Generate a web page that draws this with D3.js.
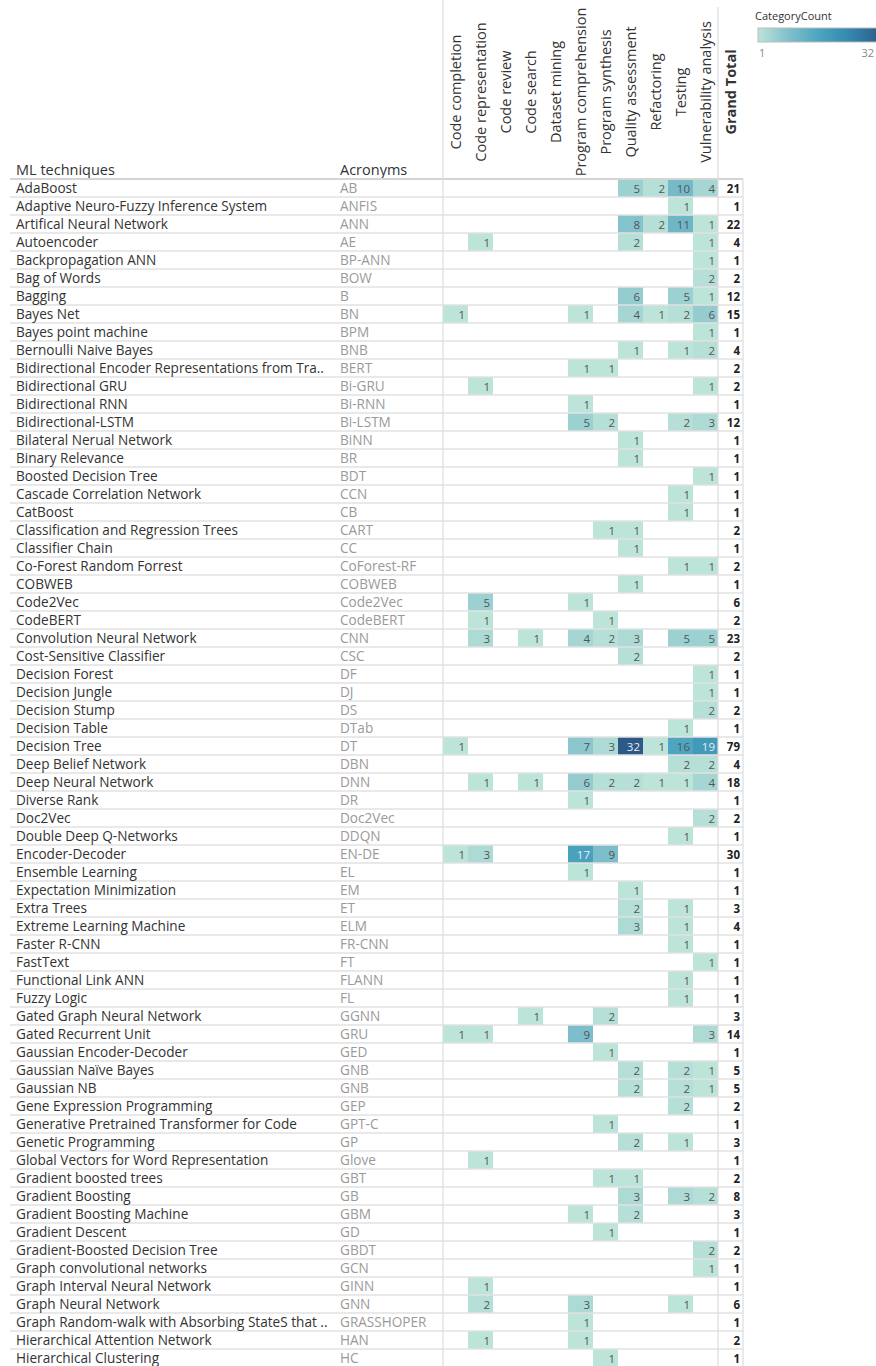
<!DOCTYPE html>
<html>
<head>
<meta charset="utf-8">
<script src="https://cdn.jsdelivr.net/npm/d3@7"></script>
<style>
  body { margin: 0; background: #fff; }
  text { font-family: "Open Sans", "Noto Sans", sans-serif; }
</style>
</head>
<body>
<svg width="876" height="1366"></svg>
<script>

// ML technique names (row labels)
const techniques = [
  "AdaBoost", "Adaptive Neuro-Fuzzy Inference System", "Artifical Neural Network", "Autoencoder",
  "Backpropagation ANN", "Bag of Words", "Bagging", "Bayes Net", "Bayes point machine",
  "Bernoulli Naive Bayes", "Bidirectional Encoder Representations from Tra..", "Bidirectional GRU",
  "Bidirectional RNN", "Bidirectional-LSTM", "Bilateral Nerual Network", "Binary Relevance",
  "Boosted Decision Tree", "Cascade Correlation Network", "CatBoost", "Classification and Regression Trees",
  "Classifier Chain", "Co-Forest Random Forrest", "COBWEB", "Code2Vec", "CodeBERT",
  "Convolution Neural Network", "Cost-Sensitive Classifier", "Decision Forest", "Decision Jungle",
  "Decision Stump", "Decision Table", "Decision Tree", "Deep Belief Network", "Deep Neural Network",
  "Diverse Rank", "Doc2Vec", "Double Deep Q-Networks", "Encoder-Decoder", "Ensemble Learning",
  "Expectation Minimization", "Extra Trees", "Extreme Learning Machine", "Faster R-CNN", "FastText",
  "Functional Link ANN", "Fuzzy Logic", "Gated Graph Neural Network", "Gated Recurrent Unit",
  "Gaussian Encoder-Decoder", "Gaussian Naïve Bayes", "Gaussian NB", "Gene Expression Programming",
  "Generative Pretrained Transformer for Code", "Genetic Programming", "Global Vectors for Word Representation",
  "Gradient boosted trees", "Gradient Boosting", "Gradient Boosting Machine", "Gradient Descent",
  "Gradient-Boosted Decision Tree", "Graph convolutional networks", "Graph Interval Neural Network",
  "Graph Neural Network", "Graph Random-walk with Absorbing StateS that ..", "Hierarchical Attention Network",
  "Hierarchical Clustering"
];

const acronyms = [
  "AB", "ANFIS", "ANN", "AE", "BP-ANN", "BOW", "B", "BN", "BPM", "BNB", "BERT", "Bi-GRU", "Bi-RNN",
  "Bi-LSTM", "BiNN", "BR", "BDT", "CCN", "CB", "CART", "CC", "CoForest-RF", "COBWEB", "Code2Vec",
  "CodeBERT", "CNN", "CSC", "DF", "DJ", "DS", "DTab", "DT", "DBN", "DNN", "DR", "Doc2Vec", "DDQN",
  "EN-DE", "EL", "EM", "ET", "ELM", "FR-CNN", "FT", "FLANN", "FL", "GGNN", "GRU", "GED", "GNB", "GNB",
  "GEP", "GPT-C", "GP", "Glove", "GBT", "GB", "GBM", "GD", "GBDT", "GCN", "GINN", "GNN", "GRASSHOPER",
  "HAN", "HC"
];

const categories = [
  "Code completion", "Code representation", "Code review", "Code search", "Dataset mining",
  "Program comprehension", "Program synthesis", "Quality assessment", "Refactoring", "Testing",
  "Vulnerability analysis"
];

// counts per technique, one entry per category (null = empty cell)
const counts = [
  [null,null,null,null,null,null,null,5,2,10,4],
  [null,null,null,null,null,null,null,null,null,1,null],
  [null,null,null,null,null,null,null,8,2,11,1],
  [null,1,null,null,null,null,null,2,null,null,1],
  [null,null,null,null,null,null,null,null,null,null,1],
  [null,null,null,null,null,null,null,null,null,null,2],
  [null,null,null,null,null,null,null,6,null,5,1],
  [1,null,null,null,null,1,null,4,1,2,6],
  [null,null,null,null,null,null,null,null,null,null,1],
  [null,null,null,null,null,null,null,1,null,1,2],
  [null,null,null,null,null,1,1,null,null,null,null],
  [null,1,null,null,null,null,null,null,null,null,1],
  [null,null,null,null,null,1,null,null,null,null,null],
  [null,null,null,null,null,5,2,null,null,2,3],
  [null,null,null,null,null,null,null,1,null,null,null],
  [null,null,null,null,null,null,null,1,null,null,null],
  [null,null,null,null,null,null,null,null,null,null,1],
  [null,null,null,null,null,null,null,null,null,1,null],
  [null,null,null,null,null,null,null,null,null,1,null],
  [null,null,null,null,null,null,1,1,null,null,null],
  [null,null,null,null,null,null,null,1,null,null,null],
  [null,null,null,null,null,null,null,null,null,1,1],
  [null,null,null,null,null,null,null,1,null,null,null],
  [null,5,null,null,null,1,null,null,null,null,null],
  [null,1,null,null,null,null,1,null,null,null,null],
  [null,3,null,1,null,4,2,3,null,5,5],
  [null,null,null,null,null,null,null,2,null,null,null],
  [null,null,null,null,null,null,null,null,null,null,1],
  [null,null,null,null,null,null,null,null,null,null,1],
  [null,null,null,null,null,null,null,null,null,null,2],
  [null,null,null,null,null,null,null,null,null,1,null],
  [1,null,null,null,null,7,3,32,1,16,19],
  [null,null,null,null,null,null,null,null,null,2,2],
  [null,1,null,1,null,6,2,2,1,1,4],
  [null,null,null,null,null,1,null,null,null,null,null],
  [null,null,null,null,null,null,null,null,null,null,2],
  [null,null,null,null,null,null,null,null,null,1,null],
  [1,3,null,null,null,17,9,null,null,null,null],
  [null,null,null,null,null,1,null,null,null,null,null],
  [null,null,null,null,null,null,null,1,null,null,null],
  [null,null,null,null,null,null,null,2,null,1,null],
  [null,null,null,null,null,null,null,3,null,1,null],
  [null,null,null,null,null,null,null,null,null,1,null],
  [null,null,null,null,null,null,null,null,null,null,1],
  [null,null,null,null,null,null,null,null,null,1,null],
  [null,null,null,null,null,null,null,null,null,1,null],
  [null,null,null,1,null,null,2,null,null,null,null],
  [1,1,null,null,null,9,null,null,null,null,3],
  [null,null,null,null,null,null,1,null,null,null,null],
  [null,null,null,null,null,null,null,2,null,2,1],
  [null,null,null,null,null,null,null,2,null,2,1],
  [null,null,null,null,null,null,null,null,null,2,null],
  [null,null,null,null,null,null,1,null,null,null,null],
  [null,null,null,null,null,null,null,2,null,1,null],
  [null,1,null,null,null,null,null,null,null,null,null],
  [null,null,null,null,null,null,1,1,null,null,null],
  [null,null,null,null,null,null,null,3,null,3,2],
  [null,null,null,null,null,1,null,2,null,null,null],
  [null,null,null,null,null,null,1,null,null,null,null],
  [null,null,null,null,null,null,null,null,null,null,2],
  [null,null,null,null,null,null,null,null,null,null,1],
  [null,1,null,null,null,null,null,null,null,null,null],
  [null,2,null,null,null,3,null,null,null,1,null],
  [null,null,null,null,null,1,null,null,null,null,null],
  [null,1,null,null,null,1,null,null,null,null,null],
  [null,null,null,null,null,null,1,null,null,null,null]
];

const legend_min = 1;
const legend_max = 32;

const svg    = d3.select("svg");
const row_h  = 18;
const top_y  = 179;
const grid_x = 443;
const col_w  = 25;
const line_x0 = 10;
const right_x = grid_x + col_w * (categories.length + 1);

const x = d3.scaleBand()
  .domain(d3.range(categories.length))
  .range([grid_x, grid_x + col_w * categories.length]);

const y = d3.scaleBand()
  .domain(d3.range(techniques.length))
  .range([top_y, top_y + row_h * techniques.length]);

// tableau-ish blue-teal ramp
const color = d3.scaleLinear()
  .domain([0, 0.25, 0.5, 0.75, 1].map(t => legend_min + t * (legend_max - legend_min)))
  .range(["#bde4d9", "#7ebfcb", "#4aa3be", "#3385ad", "#2c5985"]);

const totals = counts.map(r => d3.sum(r));

// cells flattened
const cells = [];
counts.forEach((r, i) => r.forEach((v, j) => { if (v != null) cells.push({row: i, col: j, value: v}); }));

// header texts
svg.append("text").attr("x", 16).attr("y", 175)
  .style("font-size", "14.5px").style("fill", "#333").text("ML techniques");
svg.append("text").attr("x", 340).attr("y", 175)
  .style("font-size", "14.5px").style("fill", "#333").text("Acronyms");

svg.selectAll("text.colhead")
  .data(categories.concat(["Grand Total"]))
  .enter()
  .append("text")
  .attr("class", "colhead")
  .attr("transform", (d, i) => `translate(${grid_x + col_w * i + col_w / 2 + 5.5},92) rotate(-90)`)
  .attr("text-anchor", "middle")
  .style("font-size", "14.5px")
  .style("font-weight", (d, i) => i == categories.length ? "bold" : "normal")
  .style("fill", "#333")
  .text(d => d);

// cells
svg.append("g").selectAll("rect")
  .data(cells)
  .enter()
  .append("rect")
  .attr("x", d => x(d.col))
  .attr("y", d => y(d.row))
  .attr("width", x.bandwidth())
  .attr("height", y.bandwidth())
  .style("fill", d => color(d.value));

// row separators
svg.append("g").selectAll("line")
  .data(d3.range(techniques.length + 1))
  .enter()
  .append("line")
  .attr("x1", line_x0).attr("x2", right_x)
  .attr("y1", d => top_y + d * row_h).attr("y2", d => top_y + d * row_h)
  .style("stroke", d => d == 0 ? "#d4d4d4" : "#e2e2e2")
  .style("stroke-width", d => d == 0 ? 2 : 1.5);

// vertical lines
svg.append("line").attr("x1", grid_x).attr("x2", grid_x).attr("y1", 0).attr("y2", 1366)
  .style("stroke", "#dcdcdc").style("stroke-width", 1.2);
svg.append("line").attr("x1", x.range()[1]).attr("x2", x.range()[1]).attr("y1", 7).attr("y2", 1366)
  .style("stroke", "#dcdcdc").style("stroke-width", 1.2);
svg.append("line").attr("x1", right_x).attr("x2", right_x).attr("y1", top_y).attr("y2", 1366)
  .style("stroke", "#dcdcdc").style("stroke-width", 1.2);

// row labels
const rows = svg.append("g").selectAll("g")
  .data(techniques)
  .enter()
  .append("g")
  .attr("transform", (d, i) => `translate(0,${y(i) + row_h / 2 + 4.5})`);

rows.append("text").attr("x", 16)
  .style("font-size", "13.6px").style("fill", "#333")
  .text(d => d);
rows.append("text").attr("x", 340)
  .style("font-size", "13.6px").style("fill", "#9a9a9a")
  .text((d, i) => acronyms[i]);
rows.append("text").attr("x", right_x - 3).attr("text-anchor", "end")
  .style("font-size", "11.5px").style("font-weight", "bold").style("fill", "#222")
  .text((d, i) => totals[i]);

// cell values
svg.append("g").selectAll("text")
  .data(cells)
  .enter()
  .append("text")
  .attr("x", d => x(d.col) + x.bandwidth() - 3)
  .attr("y", d => y(d.row) + row_h / 2 + 4.5)
  .attr("text-anchor", "end")
  .style("font-size", "11.5px")
  .style("fill", d => d.value >= 17 ? "#e4eef2" : "#555")
  .text(d => d.value);

// legend
const legend = svg.append("g").attr("transform", "translate(755,0)");
legend.append("text").attr("x", 0).attr("y", 20)
  .style("font-size", "11px").style("fill", "#333").text("CategoryCount");

const grad = svg.append("defs").append("linearGradient").attr("id", "ramp");
grad.selectAll("stop")
  .data(color.domain())
  .enter()
  .append("stop")
  .attr("offset", d => (d - legend_min) / (legend_max - legend_min))
  .attr("stop-color", d => color(d));

legend.append("rect").attr("x", 3).attr("y", 28).attr("width", 125).attr("height", 14)
  .style("fill", "url(#ramp)").style("stroke", "#bbb");
legend.append("text").attr("x", 4).attr("y", 57)
  .style("font-size", "11px").style("fill", "#888").text(legend_min);
legend.append("text").attr("x", 119).attr("y", 57).attr("text-anchor", "end")
  .style("font-size", "11px").style("fill", "#888").text(legend_max);

</script>
</body>
</html>
